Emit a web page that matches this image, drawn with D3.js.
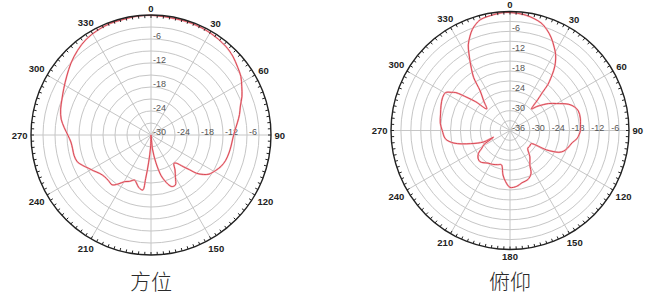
<!DOCTYPE html>
<html>
<head>
<meta charset="utf-8">
<script src="https://cdn.jsdelivr.net/npm/d3@7/dist/d3.min.js"></script>
<style>
  body { margin: 0; background: #fff; }
  svg { display: block; }
</style>
</head>
<body>
<div id="wrapper"></div>
<script>
// 方位 (azimuth) pattern, dB vs angle
const azAngles = [0, 10, 20, 30, 40, 46, 52, 57, 62, 67, 72, 77, 82, 87, 92, 98, 103, 109, 114, 119,
  124, 127, 130, 132, 134.5, 138, 141, 145.5, 150, 154, 158, 161, 163.5, 166, 170, 174, 178,
  182, 185, 187, 188.5, 193, 197, 200, 205, 209.5, 214, 218, 223, 228, 233, 238, 242, 246,
  250, 255, 260, 265, 270, 275, 280, 286, 292, 298, 305, 312, 319, 326, 333, 340, 347, 353]
const azValues = [-0.1, -0.3, -0.3, -0.5, -1.0, -1.6, -2.5, -3.2, -4.3, -5.3, -6.5, -7.3, -8.2, -9.0, -9.5, -9.8, -10.0, -10.3, -10.8, -11.6,
  -12.5, -13.6, -15.1, -17, -18.7, -20.5, -20.9, -19.4, -17.8, -16.1, -16.1, -17, -18.2, -19.5, -23, -26.5, -30,
  -27, -23, -19, -16.1, -16.5, -17.5, -18, -17.2, -16.6, -15.2, -14.2, -14.4, -14.4, -14, -13.1, -12.3, -11.3,
  -10.4, -10.1, -10.1, -9.9, -9.2, -8.2, -7.2, -6.5, -6.0, -5.3, -4.3, -3.1, -2.0, -1.1, -0.6, -0.3, -0.3, -0.1]

// 俯仰 (elevation) pattern, dB vs angle
const elAngles = [0, 8, 16, 20, 24, 28, 31, 34, 36, 38, 39.5, 40.5, 42, 45, 48, 50, 55, 60, 66, 70,
  74, 80, 85, 90, 93, 97, 101, 107, 111, 114, 116, 118, 121, 123, 128, 135, 143, 150, 154,
  160, 167, 173, 180, 185, 189, 194, 200, 207, 214, 220, 224, 229, 234, 238, 241.5, 245, 248,
  246.5, 251.6, 257.4, 262.7, 270, 276, 283.4, 290, 296, 300.5, 303, 305, 307.6, 310, 312.9,
  318.4, 323, 325.5, 328, 330, 332, 334, 337, 339.5, 342, 345, 352, 356]
const elValues = [-0.3, -0.8, -2.1, -3.5, -5.3, -7.5, -9.2, -11.5, -13.5, -16, -18, -21, -23.5, -26.8, -25.2, -24.3, -21.8, -19.7, -16.5, -15.2,
  -14.5, -14.4, -14.6, -14.7, -15, -15.6, -16.8, -17.8, -18.6, -19.8, -21.5, -23.5, -28.3, -28.5, -28.4, -28.4, -26, -24, -21.5,
  -20.2, -19.8, -19, -18.8, -20.5, -22.4, -25.3, -25, -24.5, -24.1, -23.3, -22.9, -23.2, -24.2, -26, -27, -29.5, -30.6,
  -27.3, -23.4, -18.6, -16.3, -15.5, -14.8, -14.4, -13.8, -13.3, -13.4, -14.8, -16, -19.6, -22.5, -26.4,
  -24, -21, -16.6, -14, -11.8, -9.5, -7.2, -5, -3.4, -2.3, -1.3, -0.6, -0.3]

const angleTicks = [0, 30, 60, 90, 120, 150, 180, 210, 240, 270, 300, 330]
const azHorizLabels = [-30, -24, -18, -12, -6]
const azVertLabels = [-24, -18, -12, -6]
const elHorizLabels = [-36, -30, -24, -18, -12, -6]
const elVertLabels = [-30, -24, -18, -12, -6]

const width = 665
const height = 298

const svg = d3.select("#wrapper")
  .append("svg")
    .attr("width", width)
    .attr("height", height)

svg.append("rect")
  .attr("width", width)
  .attr("height", height)
  .attr("fill", "#fff")

function drawPolar(opts) {
  const g = svg.append("g")
    .attr("transform", `translate(${opts.cx},${opts.cy})`)

  const rScale = d3.scaleLinear()
    .domain([opts.min, 0])
    .range([0, opts.radius])
    .clamp(true)

  const aScale = d3.scaleLinear()
    .domain([0, 360])
    .range([0, 2 * Math.PI])

  // rings every 3 dB
  const rings = d3.range(opts.min + 3, 0, 3)
  g.selectAll(".ring")
    .data(rings)
    .join("circle")
      .attr("r", d => rScale(d))
      .attr("fill", "none")
      .attr("stroke", "#c6c6c6")
      .attr("stroke-width", 1)

  // spokes
  g.selectAll(".spoke")
    .data(angleTicks)
    .join("line")
      .attr("x1", 0)
      .attr("y1", 0)
      .attr("x2", d => opts.radius * Math.sin(aScale(d)))
      .attr("y2", d => -opts.radius * Math.cos(aScale(d)))
      .attr("stroke", "#c6c6c6")
      .attr("stroke-width", 1)

  // radial labels
  g.selectAll(".hlab")
    .data(opts.hLabels)
    .join("text")
      .attr("x", d => rScale(d) + 2)
      .attr("y", 0)
      .text(d => d)
      .style("font-family", "Liberation Sans, Arial, sans-serif")
      .style("font-size", "9px")
      .attr("fill", "#555")

  g.selectAll(".vlab")
    .data(opts.vLabels)
    .join("text")
      .attr("x", 2)
      .attr("y", d => -rScale(d))
      .text(d => d)
      .style("font-family", "Liberation Sans, Arial, sans-serif")
      .style("font-size", "9px")
      .attr("fill", "#555")

  // pattern line
  const points = opts.angles.map((a, i) => ({angle: a, value: opts.values[i]}))
  const lineGenerator = d3.lineRadial()
    .angle(d => aScale(d.angle))
    .radius(d => rScale(d.value))
    .curve(d3.curveCatmullRomClosed.alpha(0.5))

  g.append("path")
    .attr("d", lineGenerator(points))
    .attr("fill", "none")
    .attr("stroke", "#f6b8be")
    .attr("stroke-width", 1.8)
  g.append("path")
    .attr("d", lineGenerator(points))
    .attr("fill", "none")
    .attr("stroke", "#d63c48")
    .attr("stroke-width", 0.9)

  // outer circle + ticks
  g.append("circle")
    .attr("r", opts.radius)
    .attr("fill", "none")
    .attr("stroke", "#222")
    .attr("stroke-width", 1.4)

  g.selectAll(".tick")
    .data(d3.range(0, 360, 3))
    .join("line")
      .attr("x1", d => opts.radius * Math.sin(aScale(d)))
      .attr("y1", d => -opts.radius * Math.cos(aScale(d)))
      .attr("x2", d => (opts.radius - 3) * Math.sin(aScale(d)))
      .attr("y2", d => -(opts.radius - 3) * Math.cos(aScale(d)))
      .attr("stroke", "#222")
      .attr("stroke-width", 1)

  // angle labels
  g.selectAll(".alab")
    .data(angleTicks)
    .join("text")
      .text(d => d)
      .style("font-family", "Liberation Sans, Arial, sans-serif")
      .style("font-size", "9.5px")
      .style("font-weight", "bold")
      .attr("fill", "#222")
      .attr("text-anchor", "middle")
      .attr("dominant-baseline", "central")
      .each(function(d) {
        const w = this.getComputedTextLength()
        const a = aScale(d)
        const dist = opts.radius + 3.5 + w / 2 * Math.abs(Math.sin(a)) + 3.5 * Math.abs(Math.cos(a))
        d3.select(this)
          .attr("x", dist * Math.sin(a))
          .attr("y", -dist * Math.cos(a))
      })

  if (opts.mask) {
    svg.append("rect")
      .attr("x", opts.cx - 60)
      .attr("y", opts.mask)
      .attr("width", 120)
      .attr("height", height - opts.mask)
      .attr("fill", "#fff")
  }

  svg.append("text")
    .attr("x", opts.cx)
    .attr("y", 289)
    .attr("text-anchor", "middle")
    .text(opts.title)
    .style("font-family", "Noto Sans CJK SC, sans-serif")
    .style("font-size", "21px")
    .style("font-weight", "300")
    .attr("fill", "#2a2a2a")
}

drawPolar({
  cx: 151, cy: 135, radius: 120, min: -30,
  angles: azAngles, values: azValues,
  hLabels: azHorizLabels, vLabels: azVertLabels,
  title: "方位", mask: 259
})

drawPolar({
  cx: 510, cy: 130.5, radius: 119, min: -36,
  angles: elAngles, values: elValues,
  hLabels: elHorizLabels, vLabels: elVertLabels,
  title: "俯仰"
})
</script>
</body>
</html>
